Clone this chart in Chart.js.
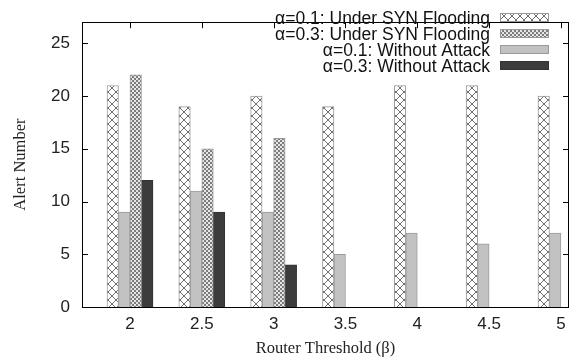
<!DOCTYPE html>
<html>
<head>
<meta charset="utf-8">
<script src="https://cdn.jsdelivr.net/npm/chart.js@4.4.1/dist/chart.umd.min.js"></script>
<style>
  html, body { margin: 0; padding: 0; background: #fff; }
</style>
</head>
<body>
<canvas id="chart" width="577" height="362"></canvas>
<script>
const betas = [2, 2.5, 3, 3.5, 4, 4.5, 5];
const synFlood01 = [21, 19, 20, 19, 21, 21, 20];
const noAttack01 = [9, 11, 9, 5, 7, 6, 7];
const synFlood03 = [22, 15, 16, null, null, null, null];
const noAttack03 = [12, 9, 4, null, null, null, null];
const yTicks = [0, 5, 10, 15, 20, 25];

const labelSyn01 = "\u03b1=0.1: Under SYN Flooding";
const labelSyn03 = "\u03b1=0.3: Under SYN Flooding";
const labelNo01 = "\u03b1=0.1: Without Attack";
const labelNo03 = "\u03b1=0.3: Without Attack";

function crossPattern() {
    const c = document.createElement("canvas");
    c.width = 8; c.height = 8;
    const g = c.getContext("2d");
    g.fillStyle = "#fff";
    g.fillRect(0, 0, 8, 8);
    g.strokeStyle = "#6e6e6e";
    g.lineWidth = 1;
    g.beginPath();
    g.moveTo(0, 0); g.lineTo(8, 8);
    g.moveTo(8, 0); g.lineTo(0, 8);
    g.stroke();
    return g.createPattern(c, "repeat");
}

function dotPattern() {
    const c = document.createElement("canvas");
    c.width = 4; c.height = 4;
    const g = c.getContext("2d");
    g.fillStyle = "#e6e6e6";
    g.fillRect(0, 0, 4, 4);
    g.fillStyle = "#7c7c7c";
    g.fillRect(0, 0, 2, 2);
    g.fillRect(2, 2, 2, 2);
    return g.createPattern(c, "repeat");
}

const toPoints = (vals) => vals.map((v, i) => ({ x: betas[i], y: v }));

// legend order differs from bar order
const legendOrder = [0, 2, 1, 3];

const framePlugin = {
    id: "frame",
    afterDraw(chart) {
        const { ctx, chartArea: a, scales } = chart;
        ctx.save();
        ctx.strokeStyle = "#000";
        ctx.lineWidth = 1;
        ctx.strokeRect(Math.round(a.left) + 0.5, Math.round(a.top) + 0.5,
            Math.round(a.right - a.left) - 1, Math.round(a.bottom - a.top));
        ctx.beginPath();
        yTicks.forEach(v => {
            const y = Math.round(scales.y.getPixelForValue(v)) + 0.5;
            ctx.moveTo(a.left, y); ctx.lineTo(a.left + 6, y);
            ctx.moveTo(a.right, y); ctx.lineTo(a.right - 6, y);
        });
        betas.forEach(b => {
            const x = Math.round(scales.x.getPixelForValue(b)) + 0.5;
            ctx.moveTo(x, a.top); ctx.lineTo(x, a.top + 6);
        });
        ctx.stroke();

        // legend
        ctx.font = "17.5px 'Liberation Sans', Arial, sans-serif";
        ctx.textAlign = "right";
        ctx.textBaseline = "middle";
        legendOrder.forEach((di, row) => {
            const ds = chart.data.datasets[di];
            const y = 18 + row * 16;
            ctx.fillStyle = "#111";
            ctx.fillText(ds.label, 490, y + 1);
            ctx.fillStyle = ds.backgroundColor;
            ctx.fillRect(501, y - 4, 47, 7);
            ctx.strokeStyle = ds.borderColor;
            ctx.strokeRect(500.5, y - 4.5, 48, 8);
        });
        ctx.restore();
    }
};

new Chart(document.getElementById("chart"), {
    type: "bar",
    data: {
        datasets: [
            {
                label: labelSyn01,
                data: toPoints(synFlood01),
                backgroundColor: crossPattern(),
                borderColor: "#9a9a9a",
                borderWidth: 1,
            },
            {
                label: labelNo01,
                data: toPoints(noAttack01),
                backgroundColor: "#c2c2c2",
                borderColor: "#9a9a9a",
                borderWidth: 1,
            },
            {
                label: labelSyn03,
                data: toPoints(synFlood03),
                backgroundColor: dotPattern(),
                borderColor: "#9a9a9a",
                borderWidth: 1,
            },
            {
                label: labelNo03,
                data: toPoints(noAttack03),
                backgroundColor: "#3c3c3c",
                borderColor: "#333",
                borderWidth: 1,
            },
        ],
    },
    options: {
        responsive: false,
        animation: false,
        devicePixelRatio: 1,
        layout: { padding: { top: 4, right: 8, left: 0, bottom: 0 } },
        datasets: { bar: { barThickness: 11.5, grouped: true } },
        plugins: {
            legend: { display: false },
            tooltip: { enabled: false },
        },
        scales: {
            x: {
                type: "linear",
                offset: false,
                min: 1.666,
                max: 5.056,
                grid: { display: false, drawTicks: false, offset: false },
                border: { display: false },
                afterBuildTicks: (s) => { s.ticks = betas.map(v => ({ value: v })); },
                afterFit: (s) => { s.height = 55; },
                ticks: {
                    padding: 7,
                    color: "#222",
                    font: { family: "'Liberation Sans', Arial, sans-serif", size: 17 },
                    callback: (v) => String(v),
                },
                title: {
                    display: true,
                    text: "Router Threshold (\u03b2)",
                    color: "#222",
                    padding: { top: 0, bottom: 3 },
                    font: { family: "'Liberation Serif', 'Times New Roman', serif", size: 16.5 },
                },
            },
            y: {
                min: 0,
                max: 27,
                grid: { display: false, drawTicks: false },
                border: { display: false },
                afterBuildTicks: (s) => { s.ticks = yTicks.map(v => ({ value: v })); },
                afterFit: (s) => { s.width = 82; },
                ticks: {
                    padding: 12,
                    color: "#222",
                    font: { family: "'Liberation Sans', Arial, sans-serif", size: 17 },
                },
                title: {
                    display: true,
                    text: "Alert Number",
                    color: "#222",
                    padding: { top: 11, bottom: 0 },
                    font: { family: "'Liberation Serif', 'Times New Roman', serif", size: 16.5 },
                },
            },
        },
    },
    plugins: [framePlugin],
});
</script>
</body>
</html>
